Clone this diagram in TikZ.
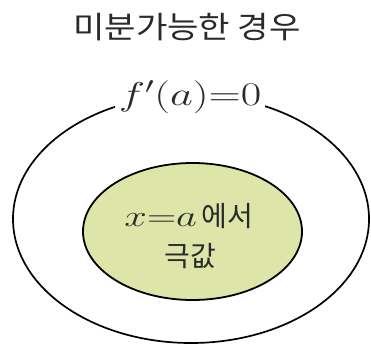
\RequirePackage{fix-cm}
\documentclass[tikz,border=0pt]{standalone}
\usepackage{fontspec}
\newfontfamily\kr{Noto Sans CJK KR}
\definecolor{leaf}{HTML}{DDE5A8}
\definecolor{ink}{HTML}{2A2A2A}
\begin{document}
\begin{tikzpicture}[x=1pt,y=-1pt,
  ring/.style={draw=black,line width=1.7pt},
  txt/.style={text=ink,inner sep=0pt}]
\useasboundingbox (0,0) rectangle (371,350);
\node[txt,font=\kr\fontsize{30.5}{35}\selectfont] (title) at (187,27) {\scalebox{1.12}[1]{미분가능한 경우}};
\draw[ring] (191,219) ellipse [x radius=178,y radius=124];
\node[txt,fill=white,inner xsep=4pt,inner ysep=2pt,font=\fontsize{33}{37}\selectfont] (lab) at (190,97) {\scalebox{1.35}[1]{$f'(a){=}0$}};
\draw[ring,fill=leaf,line width=1.8pt] (192.5,231.5) ellipse [x radius=109.5,y radius=68.5];
\node[txt,font=\fontsize{30}{34}\selectfont] (l1) at (189,216) {\scalebox{1.35}[1]{$x{=}a$}\,{\kr\fontsize{28}{32}\selectfont 에서}};
\node[txt,font=\kr\fontsize{28}{32}\selectfont] (l2) at (190,256) {극값};
\end{tikzpicture}
\end{document}
